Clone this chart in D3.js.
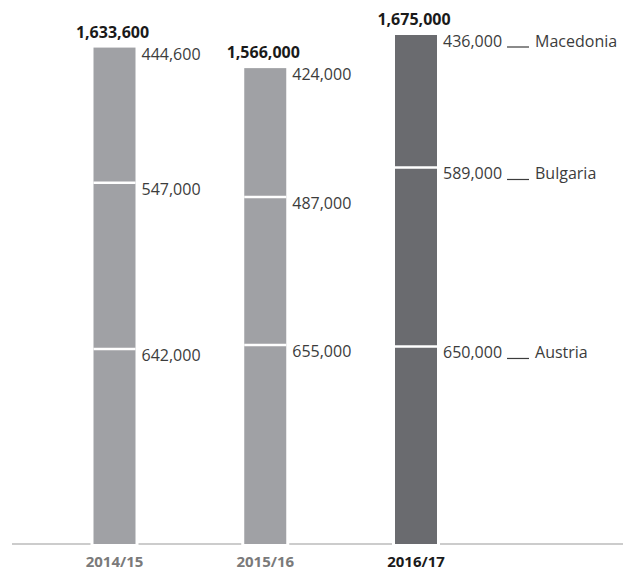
<!DOCTYPE html>
<html>
<head>
<meta charset="utf-8">
<script src="https://cdn.jsdelivr.net/npm/d3@7"></script>
<style>
  html, body { margin: 0; padding: 0; background: #fff; }
  svg { display: block; font-family: "Open Sans", "Noto Sans", sans-serif; }
</style>
</head>
<body>
<svg id="chart" width="628" height="570"></svg>
<script>
// Seasons shown on the x axis
const seasons = ["2014/15", "2015/16", "2016/17"];
// Stack segments, bottom to top
const routes = ["Austria", "Bulgaria", "Macedonia"];
const austria = [642000, 655000, 650000];
const bulgaria = [547000, 487000, 589000];
const macedonia = [444600, 424000, 436000];
const totals = [1633600, 1566000, 1675000];
const highlighted = "2016/17";

const svg = d3.select("#chart");
const fmt = d3.format(",");

const baseY = 544;
const barW = 42;
const valSize = 16;

const x = d3.scalePoint().domain(seasons).range([114.5, 416]);
const y = d3.scaleLinear().domain([0, 1675000]).range([baseY, 35]);

const rows = seasons.map((s, i) => {
  const vals = [austria[i], bulgaria[i], macedonia[i]];
  let acc = 0;
  const segs = vals.map((v, k) => {
    const s0 = acc; acc += v;
    return { season: s, route: routes[k], value: v, y0: s0, y1: acc };
  });
  return { season: s, total: totals[i], segs };
});

const colorFor = s => s === highlighted ? "#6a6b6f" : "#a0a1a5";

// baseline
svg.append("line")
  .attr("x1", 12).attr("x2", 623)
  .attr("y1", baseY).attr("y2", baseY)
  .attr("stroke", "#9a9a9a").attr("stroke-width", 1.2);

// white gaps in the baseline around each bar
svg.selectAll("rect.gap").data(seasons).join("rect")
  .attr("class", "gap")
  .attr("x", d => x(d) - barW / 2 - 3)
  .attr("width", barW + 6)
  .attr("y", baseY - 2).attr("height", 4)
  .attr("fill", "#fff");

const bar = svg.selectAll("g.bar").data(rows).join("g").attr("class", "bar");

bar.selectAll("rect.seg").data(d => d.segs).join("rect")
  .attr("class", "seg")
  .attr("x", d => x(d.season) - barW / 2)
  .attr("width", barW)
  .attr("y", d => y(d.y1))
  .attr("height", d => y(d.y0) - y(d.y1))
  .attr("fill", d => colorFor(d.season));

// white separators between segments
bar.selectAll("line.sep").data(d => d.segs.slice(0, -1)).join("line")
  .attr("class", "sep")
  .attr("x1", d => x(d.season) - barW / 2)
  .attr("x2", d => x(d.season) + barW / 2)
  .attr("y1", d => y(d.y1)).attr("y2", d => y(d.y1))
  .attr("stroke", "#fff").attr("stroke-width", 2.5);

// segment value labels
bar.selectAll("text.val").data(d => d.segs).join("text")
  .attr("class", "val")
  .attr("x", d => x(d.season) + barW / 2 + 6)
  .attr("y", d => y(d.y1) + 12)
  .attr("font-size", valSize)
  .attr("fill", "#3c3c3c")
  .text(d => fmt(d.value));

// totals above each bar
bar.append("text")
  .attr("x", d => x(d.season) - 2)
  .attr("y", d => y(d.total) - 10)
  .attr("text-anchor", "middle")
  .attr("font-size", 16)
  .attr("font-weight", 700)
  .attr("fill", "#1a1a1a")
  .text(d => fmt(d.total));

// route names next to the highlighted bar
const last = rows.find(r => r.season === highlighted);
const lab = svg.selectAll("g.route").data(last.segs).join("g").attr("class", "route");
const lx = x(highlighted) + barW / 2 + 6;
lab.each(function(d) {
  const g = d3.select(this);
  const ty = y(d.y1) + 12;
  const w = g.append("text").attr("x", lx).attr("y", ty).attr("font-size", valSize)
    .attr("fill", "transparent").text(fmt(d.value)).node().getComputedTextLength();
  g.append("line")
    .attr("x1", lx + w + 5).attr("x2", lx + w + 27)
    .attr("y1", ty).attr("y2", ty)
    .attr("stroke", "#3c3c3c").attr("stroke-width", 1.2);
  g.append("text")
    .attr("x", lx + w + 33).attr("y", ty)
    .attr("font-size", valSize).attr("fill", "#3c3c3c")
    .text(d.route);
});

// season labels
svg.selectAll("text.season").data(seasons).join("text")
  .attr("class", "season")
  .attr("x", d => x(d))
  .attr("y", 567)
  .attr("text-anchor", "middle")
  .attr("font-size", 15)
  .attr("font-weight", 700)
  .attr("fill", d => d === highlighted ? "#1a1a1a" : "#7a7a7a")
  .text(d => d);
</script>
</body>
</html>
